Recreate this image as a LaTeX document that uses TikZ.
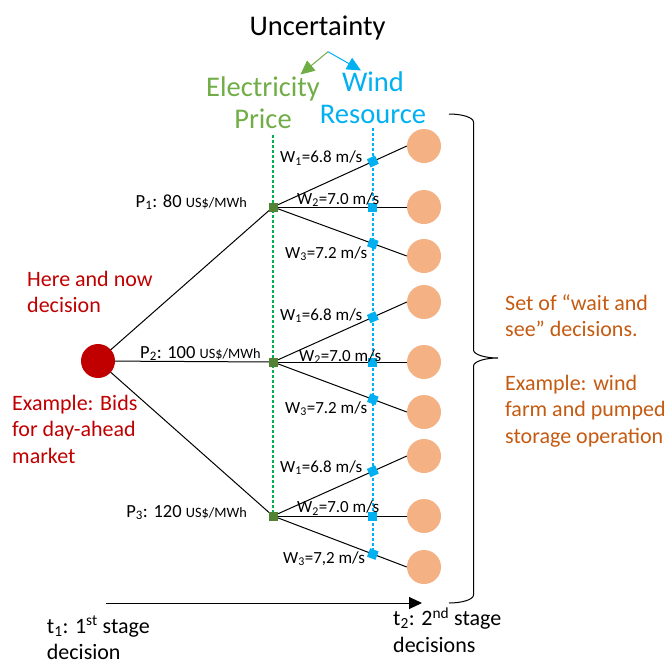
\documentclass[tikz,border=0pt]{standalone}
\usepackage{fontspec}
\setmainfont{Carlito}
\usetikzlibrary{arrows.meta,calc}
\definecolor{cRed}{HTML}{C00000}
\definecolor{cOrT}{HTML}{C55A11}
\definecolor{cOrC}{HTML}{F4B183}
\definecolor{cGrT}{HTML}{70AD47}
\definecolor{cGrS}{HTML}{548235}
\definecolor{cGrD}{HTML}{00B050}
\definecolor{cBl}{HTML}{00B0F0}
\pgfdeclarelayer{bg}
\pgfsetlayers{bg,main}
\begin{document}
\begin{tikzpicture}[x=1pt,y=-1pt,
  bigtxt/.style={font=\fontsize{28.5}{31.6}\selectfont, inner sep=0, anchor=base, align=center},
  midtxt/.style={font=\fontsize{22}{26.5}\selectfont, inner sep=0, anchor=base west, align=left},
  wlab/.style={font=\fontsize{17}{20}\selectfont, inner sep=0, anchor=base west},
  plab/.style={font=\fontsize{18.5}{20}\selectfont, inner sep=0},
  dec/.style={circle, fill=cOrC, minimum size=34pt, inner sep=0},
  gsq/.style={fill=cGrS, minimum size=9pt, inner sep=0},
  bsq/.style={fill=cBl, minimum size=9pt, inner sep=0},
  tl/.style={line width=1pt, black},
  gdash/.style={line width=1.3pt, cGrD, dash pattern=on 3pt off 2pt},
  bdash/.style={line width=1.3pt, cBl, dash pattern=on 3pt off 2pt},
  upar/.style={line width=1pt, -{Triangle[length=14pt,width=13pt]}}
]
\useasboundingbox (0,0) rectangle (669,659);
\newcommand{\usd}{{\fontsize{14.3}{16}\selectfont US\$/MWh}}

% titles (base anchor = baseline of last line)
\node[bigtxt] (unc) at (317.5,35) {Uncertainty};
\node[bigtxt, text=cGrT] (ep) at (263,128.3) {Electricity\\Price};
\node[bigtxt, text=cBl] (wr) at (373,123) {Wind\\Resource};
\coordinate (usplit) at (328,51.7);
\coordinate (gtip) at (300.5,74.5);
\coordinate (btip) at (361,70.5);
\draw[upar, cGrT] (usplit) -- (gtip);
\draw[upar, cBl] (usplit) -- (btip);

% nodes
\node[circle, fill=cRed, minimum size=34pt, inner sep=0] (r) at (98,361) {};
\node[gsq] (g1) at (273,207) {};
\node[gsq] (g2) at (273,362) {};
\node[gsq] (g3) at (273,516) {};
\node[dec] (c11) at (424,146) {};
\node[dec] (c12) at (424,207) {};
\node[dec] (c13) at (424,256) {};
\node[dec] (c21) at (424,302) {};
\node[dec] (c22) at (424,362) {};
\node[dec] (c23) at (424,412) {};
\node[dec] (c31) at (424,456) {};
\node[dec] (c32) at (424,516) {};
\node[dec] (c33) at (424,567) {};
\coordinate (gtop) at (273,135);
\coordinate (btop) at (373,128);
\coordinate (bbot) at (373,556);

\begin{pgfonlayer}{bg}
\draw[gdash] (gtop) -- (g3.center);
\draw[bdash] (btop) -- (bbot);
\draw[tl] (r.center) -- (g1.center);
\draw[tl] (r.center) -- (g2.center);
\draw[tl] (r.center) -- (g3.center);
\draw[tl] (g1.center) -- node[bsq,sloped,pos=0.746] (b11) {} (c11.west);
\draw[tl] (g1.center) -- node[bsq,sloped,pos=0.746] (b12) {} (c12.west);
\draw[tl] (g1.center) -- node[bsq,sloped,pos=0.746] (b13) {} (c13.west);
\draw[tl] (g2.center) -- node[bsq,sloped,pos=0.746] (b21) {} (c21.west);
\draw[tl] (g2.center) -- node[bsq,sloped,pos=0.746] (b22) {} (c22.west);
\draw[tl] (g2.center) -- node[bsq,sloped,pos=0.746] (b23) {} (c23.west);
\draw[tl] (g3.center) -- node[bsq,sloped,pos=0.746] (b31) {} (c31.west);
\draw[tl] (g3.center) -- node[bsq,sloped,pos=0.746] (b32) {} (c32.west);
\draw[tl] (g3.center) -- node[bsq,sloped,pos=0.746] (b33) {} (c33.west);
\end{pgfonlayer}

% price labels
\node[plab, anchor=base east] (p1) at (247,207.3) {P\textsubscript{1}: 80 \usd};
\node[plab, anchor=base west] (p2) at (140,358) {P\textsubscript{2}: 100 \usd};
\node[plab, anchor=base east] (p3) at (247,517) {P\textsubscript{3}: 120 \usd};

% wind labels
\node[wlab] (w11) at (280,162.7) {W\textsubscript{1}=6.8 m/s};
\node[wlab] (w12) at (297,204) {W\textsubscript{2}=7.0 m/s};
\node[wlab] (w13) at (285,258) {W\textsubscript{3}=7.2 m/s};
\node[wlab] (w21) at (280,320) {W\textsubscript{1}=6.8 m/s};
\node[wlab] (w22) at (299,361) {W\textsubscript{2}=7.0 m/s};
\node[wlab] (w23) at (285,413) {W\textsubscript{3}=7.2 m/s};
\node[wlab] (w31) at (280,472) {W\textsubscript{1}=6.8 m/s};
\node[wlab] (w32) at (297,512.7) {W\textsubscript{2}=7.0 m/s};
\node[wlab] (w33) at (283,563) {W\textsubscript{3}=7,2 m/s};

% left texts
\node[midtxt, text=cRed] (here) at (27,312.5) {Here and now\\decision};
\node[midtxt, text=cRed] (bids) at (12,463) {Example: Bids\\for day-ahead\\market};

% right texts
\node[midtxt, text=cOrT] (wait) at (505,336.7) {Set of “wait and\\see” decisions.};
\node[midtxt, text=cOrT] (exw) at (505,443.3) {Example: wind\\farm and pumped\\storage operation};

% brace
\draw[line width=1pt] (449,114) .. controls (462.5,114) and (473.5,117.6) .. (473.5,122)
  -- (473.5,350) .. controls (473.5,354.4) and (484.5,358) .. (498,358)
  .. controls (484.5,358) and (473.5,361.6) .. (473.5,366)
  -- (473.5,595) .. controls (473.5,599.4) and (462.5,603) .. (449,603);

% time axis
\coordinate (ta) at (106,603);
\coordinate (tb) at (422,603);
\draw[line width=1pt, -{Triangle[length=13pt,width=12pt]}] (ta) -- (tb);
\node[midtxt] (t1) at (46.7,659.5) {t\textsubscript{1}: 1\textsuperscript{st} stage\\decision};
\node[midtxt] (t2) at (393,652.2) {t\textsubscript{2}: 2\textsuperscript{nd} stage\\decisions};
\end{tikzpicture}
\end{document}
